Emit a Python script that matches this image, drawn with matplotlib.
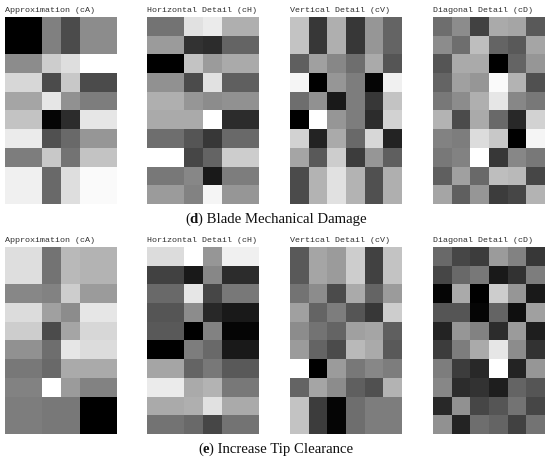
'''
Wavelet coefficient grids for two fault types, shown as grey cells
'''

import numpy as np
import matplotlib.pyplot as plt

# grey levels 0-255, 10 rows x 6 columns
damage_cA = [[0, 0, 128, 75, 140, 140],
             [0, 0, 128, 75, 140, 140],
             [140, 140, 205, 222, 255, 255],
             [215, 215, 75, 200, 75, 75],
             [165, 165, 230, 145, 125, 125],
             [195, 195, 5, 45, 230, 230],
             [235, 235, 80, 105, 150, 150],
             [125, 125, 200, 115, 195, 195],
             [240, 240, 105, 222, 250, 250],
             [240, 240, 105, 222, 250, 250]]
damage_cH = [[115, 115, 225, 235, 175, 175],
             [155, 155, 50, 45, 100, 100],
             [0, 0, 195, 155, 170, 170],
             [145, 145, 75, 225, 95, 95],
             [175, 175, 150, 140, 145, 145],
             [170, 170, 170, 255, 45, 45],
             [110, 110, 85, 55, 105, 105],
             [255, 255, 70, 100, 205, 205],
             [120, 120, 135, 25, 125, 125],
             [155, 155, 130, 245, 150, 150]]
damage_cV = [[195, 55, 175, 55, 150, 100],
             [195, 55, 175, 55, 150, 100],
             [95, 160, 135, 110, 170, 85],
             [245, 0, 150, 125, 5, 240],
             [110, 145, 25, 125, 55, 195],
             [0, 255, 150, 125, 45, 210],
             [210, 35, 170, 105, 215, 35],
             [165, 90, 205, 60, 150, 95],
             [75, 180, 225, 180, 80, 175],
             [75, 180, 225, 180, 80, 175]]
damage_cD = [[110, 140, 65, 170, 165, 90],
             [140, 110, 190, 100, 90, 165],
             [85, 170, 170, 0, 100, 150],
             [100, 160, 150, 250, 180, 80],
             [120, 140, 175, 230, 135, 120],
             [180, 75, 170, 105, 40, 210],
             [130, 125, 220, 200, 0, 245],
             [120, 130, 255, 55, 135, 120],
             [95, 160, 105, 190, 185, 70],
             [165, 95, 150, 60, 70, 180]]

tip_cA = [[222, 222, 115, 185, 180, 180],
          [222, 222, 115, 185, 180, 180],
          [135, 135, 130, 205, 155, 155],
          [220, 220, 160, 140, 230, 230],
          [205, 205, 75, 165, 215, 215],
          [145, 145, 110, 230, 220, 220],
          [120, 120, 105, 170, 170, 170],
          [130, 130, 255, 155, 130, 130],
          [125, 125, 120, 120, 0, 0],
          [125, 125, 120, 120, 0, 0]]
tip_cH = [[220, 220, 255, 150, 240, 240],
          [65, 65, 25, 135, 45, 45],
          [105, 105, 230, 70, 120, 120],
          [85, 85, 140, 40, 25, 25],
          [90, 90, 0, 130, 5, 5],
          [0, 0, 125, 105, 25, 25],
          [165, 165, 100, 120, 90, 90],
          [235, 235, 170, 180, 120, 120],
          [170, 170, 175, 225, 170, 170],
          [115, 115, 105, 70, 115, 115]]
tip_cV = [[90, 165, 155, 205, 65, 195],
          [90, 165, 155, 205, 65, 195],
          [115, 140, 75, 170, 100, 155],
          [160, 100, 125, 85, 55, 205],
          [140, 115, 100, 160, 165, 95],
          [155, 100, 75, 185, 170, 90],
          [255, 0, 155, 120, 135, 125],
          [100, 165, 140, 95, 80, 180],
          [195, 60, 5, 110, 125, 125],
          [195, 60, 5, 110, 125, 125]]
tip_cD = [[105, 70, 60, 155, 130, 55],
          [70, 105, 120, 25, 50, 125],
          [5, 170, 0, 205, 150, 25],
          [85, 85, 5, 100, 15, 160],
          [35, 150, 130, 45, 155, 30],
          [60, 125, 170, 230, 140, 50],
          [125, 60, 40, 255, 35, 150],
          [135, 45, 50, 30, 100, 85],
          [40, 145, 70, 85, 115, 70],
          [145, 35, 110, 100, 65, 115]]

panel_titles = ['Approximation (cA)', 'Horizontal Detail (cH)',
                'Vertical Detail (cV)', 'Diagonal Detail (cD)']
damage_panels = [damage_cA, damage_cH, damage_cV, damage_cD]
tip_panels = [tip_cA, tip_cH, tip_cV, tip_cD]

W, H = 550, 461
fig = plt.figure(figsize=(W / 100, H / 100), dpi=100)


def draw_row(panels, top, bottom):
    lefts = [5, 147.3, 290.3, 432.7]
    for data, title, left in zip(panels, panel_titles, lefts):
        ax = fig.add_axes([left / W, 1 - bottom / H, 112 / W, (bottom - top) / H])
        ax.imshow(np.array(data), cmap='gray', vmin=0, vmax=255,
                  aspect='auto', interpolation='nearest')
        ax.axis('off')
        fig.text(left / W, 1 - (top - 7) / H, title, family='Liberation Mono',
                 fontsize=6.0, color='#303030', ha='left', va='center')


def caption(letter, label, x, y):
    # bold letter only, so the caption is built from pieces
    kw = dict(family='Liberation Serif', fontsize=10.6, color='#111111', va='center')
    t = fig.text(x / W, 1 - y / H, '(', **kw)
    t = plt.annotate(letter, xy=(1, 0.5), xycoords=t, va='center', ha='left',
                     family='Liberation Serif', fontsize=10.6, color='#111111',
                     fontweight='bold', annotation_clip=False)
    plt.annotate(') ' + label, xy=(1, 0.5), xycoords=t, va='center', ha='left',
                 family='Liberation Serif', fontsize=10.6, color='#111111',
                 annotation_clip=False)


draw_row(damage_panels, 17.3, 204)
draw_row(tip_panels, 247.3, 434)
caption('d', 'Blade Mechanical Damage', 185, 219.5)
caption('e', 'Increase Tip Clearance', 198, 449.5)

plt.savefig('out.png', dpi=100)
